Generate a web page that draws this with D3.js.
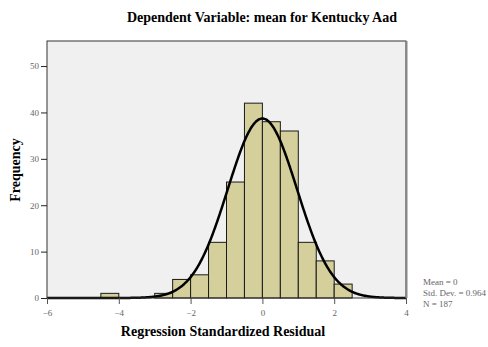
<!DOCTYPE html>
<html>
<head>
<meta charset="utf-8">
<script src="https://cdn.jsdelivr.net/npm/d3@7"></script>
<style>
  body { margin: 0; background: #fff; }
  svg text { font-family: "Liberation Serif", "Times New Roman", serif; }
</style>
</head>
<body>
<svg width="488" height="347"></svg>
<script>
// histogram bins (width 0.5) and counts
var binStarts = [-4.5, -3, -2.5, -2, -1.5, -1, -0.5, 0, 0.5, 1, 1.5, 2];
var binCounts = [1, 1, 4, 5, 12, 25, 42, 38, 36, 12, 8, 3];
var binWidth = 0.5;
var xTicks = [-6, -4, -2, 0, 2, 4];
var yTicks = [0, 10, 20, 30, 40, 50];
var statMean = 0, statSd = 0.964, statN = 187;
var statLabels = ["Mean = 0", "Std. Dev. = 0.964", "N = 187"];

var svg = d3.select("svg"),
    plotLeft = 47, plotRight = 406, plotTop = 41, plotBottom = 298;

var xScale = d3.scaleLinear().domain([-6, 4]).range([plotLeft, plotRight]);
var yScale = d3.scaleLinear().domain([0, 55.4]).range([plotBottom, plotTop]);

// plot background
svg.append("rect")
   .attr("x", plotLeft).attr("y", plotTop)
   .attr("width", plotRight - plotLeft).attr("height", plotBottom - plotTop)
   .attr("fill", "#f0f0f0");

// bars
svg.selectAll(".bar")
   .data(binStarts)
   .enter().append("rect")
   .attr("class", "bar")
   .attr("x", function(d) { return xScale(d); })
   .attr("y", function(d, i) { return yScale(binCounts[i]); })
   .attr("width", function(d) { return xScale(d + binWidth) - xScale(d); })
   .attr("height", function(d, i) { return plotBottom - yScale(binCounts[i]); })
   .attr("fill", "#d4cf9b")
   .attr("stroke", "#1a1a1a")
   .attr("stroke-width", 1);

// normal curve from the stated mean / sd / N
var curveXs = d3.range(-6, 4.001, 0.02);
var scaleFactor = statN * binWidth / (statSd * Math.sqrt(2 * Math.PI));
var line = d3.line()
   .x(function(d) { return xScale(d); })
   .y(function(d) { return yScale(scaleFactor * Math.exp(-0.5 * Math.pow((d - statMean) / statSd, 2))); })
   .curve(d3.curveBasis);

svg.append("path")
   .datum(curveXs)
   .attr("d", line)
   .attr("fill", "none")
   .attr("stroke", "#000")
   .attr("stroke-width", 2.5);

// frame
svg.append("rect")
   .attr("x", plotLeft).attr("y", plotTop)
   .attr("width", plotRight - plotLeft).attr("height", plotBottom - plotTop)
   .attr("fill", "none")
   .attr("stroke", "#333")
   .attr("stroke-width", 1);
svg.append("line")
   .attr("x1", plotRight + 0.5).attr("x2", plotRight + 0.5)
   .attr("y1", plotTop).attr("y2", plotBottom)
   .attr("stroke", "#888").attr("stroke-width", 2);

// axes
var yAxis = svg.append("g")
   .attr("transform", "translate(" + plotLeft + ",0)")
   .call(d3.axisLeft(yScale).tickValues(yTicks).tickSize(6).tickPadding(2));
yAxis.select(".domain").remove();
yAxis.selectAll("line").attr("stroke", "#222");
yAxis.selectAll("text").attr("fill", "#666").style("font-size", "9px");

var xAxis = svg.append("g")
   .attr("transform", "translate(0," + plotBottom + ")")
   .call(d3.axisBottom(xScale).tickValues(xTicks).tickSize(6).tickPadding(6));
xAxis.select(".domain").remove();
xAxis.selectAll("line").attr("stroke", "#555");
xAxis.selectAll("text").attr("fill", "#666").style("font-size", "9px");

// titles
svg.append("text")
   .attr("x", 262).attr("y", 22)
   .attr("text-anchor", "middle")
   .style("font-size", "14px").style("font-weight", "bold")
   .text("Dependent Variable: mean for Kentucky Aad");

svg.append("text")
   .attr("x", 223).attr("y", 336)
   .attr("text-anchor", "middle")
   .style("font-size", "14px").style("font-weight", "bold")
   .text("Regression Standardized Residual");

svg.append("text")
   .attr("transform", "translate(20,170) rotate(-90)")
   .attr("text-anchor", "middle")
   .style("font-size", "14px").style("font-weight", "bold")
   .text("Frequency");

svg.selectAll(".stat")
   .data(statLabels)
   .enter().append("text")
   .attr("class", "stat")
   .attr("x", 423)
   .attr("y", function(d, i) { return 285 + i * 11; })
   .attr("fill", "#666")
   .style("font-size", "9px")
   .text(function(d) { return d; });
</script>
</body>
</html>
